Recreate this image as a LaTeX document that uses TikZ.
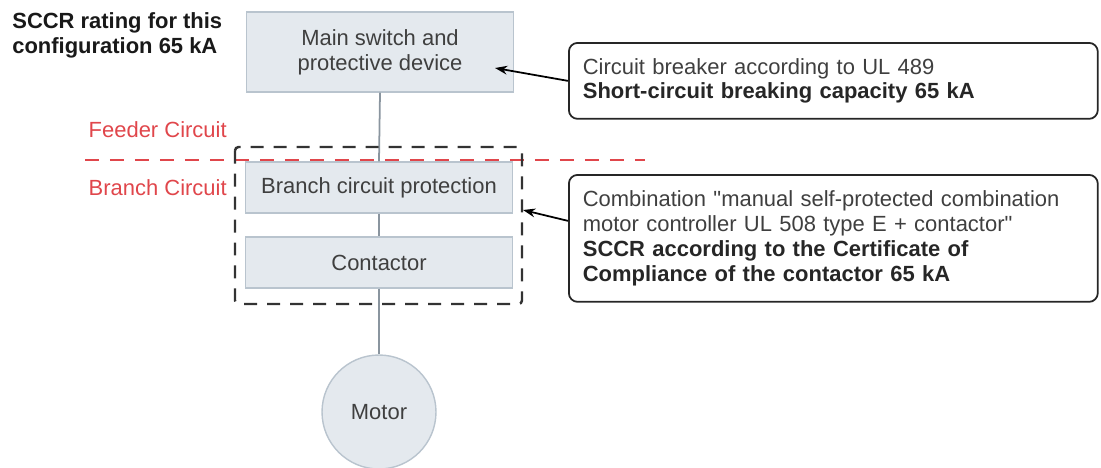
\documentclass[tikz,border=0pt]{standalone}
\usepackage{fontspec}
\setmainfont{Liberation Sans}
\usetikzlibrary{arrows.meta}
\definecolor{boxfill}{HTML}{E4E9EE}
\definecolor{boxline}{HTML}{B9C4CE}
\definecolor{wire}{HTML}{8A959F}
\definecolor{txt}{HTML}{3F3F3F}
\definecolor{feedred}{HTML}{E0464B}
\newcommand\diafont{\fontsize{12.5}{14.2}\selectfont}

\begin{document}
\begin{tikzpicture}[x=0.02cm,y=-0.02cm,
  every node/.style={font=\diafont},
  block/.style={draw=boxline,fill=boxfill,line width=0.8pt,text=txt,align=center,minimum width=5.34cm,inner sep=0pt},
  note/.style={draw=black!85,line width=1pt,rounded corners=5pt,anchor=north west,text=txt,align=left,text width=10.02cm,inner xsep=0.28cm,inner ysep=0pt},
  wire/.style={draw=wire,line width=1pt},
  pointer/.style={line width=1pt,-{Stealth[length=7pt,width=5pt]}}]
\useasboundingbox (0,0) rectangle (1101,467);
% blocks
\node[block,minimum height=1.6cm] (main) at (380,52) {Main switch and\\protective device};
\node[block,minimum height=1.02cm] (branch) at (379,187.5) {Branch circuit protection};
\node[block,minimum height=1.02cm] (contactor) at (379,262.5) {Contactor};
\node[draw=boxline,fill=boxfill,line width=0.8pt,text=txt,circle,minimum size=2.28cm,inner sep=0pt] (motor) at (379,412) {Motor};
\draw[wire] (main.south)--(branch.north); \draw[wire] (branch.south)--(contactor.north); \draw[wire] (contactor.south)--(motor.north);
% feeder / branch separation
\draw[feedred,line width=1.2pt,dash pattern=on 0.28cm off 0.22cm] (85,160)--(645,160);
\node[text=feedred,anchor=east,inner sep=0pt] (feeder) at (227,130) {Feeder Circuit};
\node[text=feedred,anchor=east,inner sep=0pt] (branchlbl) at (227,188) {Branch Circuit};
\draw[black!80,line width=1.4pt,dash pattern=on 0.26cm off 0.2cm,rounded corners=2pt] (235,147) rectangle (522,304);
\node[anchor=west,align=left,inner sep=0pt,text=black!90] (sccr) at (12,35) {\bfseries SCCR rating for this\\\bfseries configuration 65 kA};
% notes
\node[note,minimum height=1.52cm] (note1) at (568,42) {Circuit breaker according to UL 489\\\textbf{\color{black!85}Short-circuit breaking capacity 65 kA}};
\node[note,minimum height=2.54cm] (note2) at (568,174) {Combination \textquotedbl manual self-protected combination\\motor controller UL 508 type E + contactor\textquotedbl\\\textbf{\color{black!85}SCCR according to the Certificate of}\\\textbf{\color{black!85}Compliance of the contactor 65 kA}};
\coordinate (tip1) at (495,68); \coordinate (tip2) at (523,210);
\draw[pointer] (note1.west)--(tip1);
\draw[pointer] ([yshift=0.35cm]note2.west)--(tip2);
\end{tikzpicture}
\end{document}
